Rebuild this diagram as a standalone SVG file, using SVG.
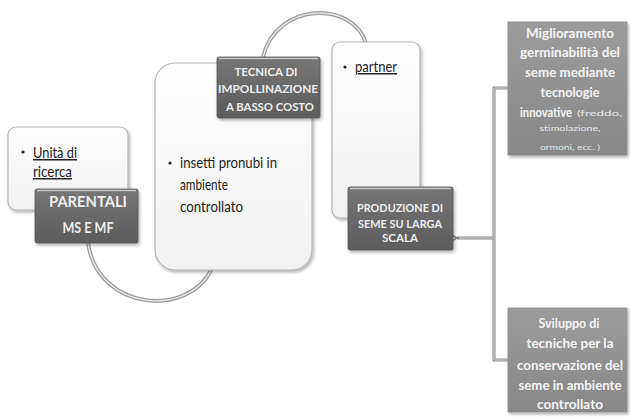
<svg xmlns="http://www.w3.org/2000/svg" width="630" height="417" viewBox="0 0 630 417">
<defs>
<style>
.lt{fill:url(#gLight);stroke:#b4b4b4;stroke-width:1.2;filter:url(#sh)}
.dk{fill:url(#gDark);stroke:#555;stroke-width:0.8;filter:url(#sh)}
.gr{fill:url(#gGray);stroke:#8a8a8a;stroke-width:0.8;filter:url(#sh)}
.hl{stroke:#c8c8c8;stroke-width:1.5}
.bt{font-family:Lato,"Liberation Sans",sans-serif;font-size:15px;fill:#222}
.dt{font-family:Lato,"Liberation Sans",sans-serif;font-weight:bold;fill:#eeeeee;text-anchor:middle}
.rt{font-family:Lato,"Liberation Sans",sans-serif;font-weight:bold;font-size:12.5px;fill:#f4f4f4}
.mid{text-anchor:middle}
.sm{font-family:Lato,"Liberation Sans",sans-serif;font-size:8px;fill:#e6e6e6;font-weight:normal}
.c1{fill:none;stroke:#9c9c9c;stroke-width:4}
.c2{fill:none;stroke:#e8e8e8;stroke-width:1.5}
.r1{fill:none;stroke:#8a8a8a;stroke-width:3}
.r2{fill:none;stroke:#d8d8d8;stroke-width:1}
</style>
<linearGradient id="gLight" x1="0" y1="0" x2="0" y2="1"><stop offset="0" stop-color="#ffffff"/><stop offset="1" stop-color="#f1f1f1"/></linearGradient>
<linearGradient id="gDark" x1="0" y1="0" x2="0" y2="1"><stop offset="0" stop-color="#767676"/><stop offset="1" stop-color="#5c5c5c"/></linearGradient>
<linearGradient id="gGray" x1="0" y1="0" x2="0" y2="1"><stop offset="0" stop-color="#9c9c9c"/><stop offset="1" stop-color="#878787"/></linearGradient>
<filter id="sh" x="-10%" y="-10%" width="130%" height="130%"><feDropShadow dx="1.5" dy="2" stdDeviation="1.5" flood-color="#000" flood-opacity="0.3"/></filter>
<marker id="ah" markerWidth="8" markerHeight="8" refX="1" refY="4" orient="auto" markerUnits="userSpaceOnUse"><path d="M7,0.5 L1,4 L7,7.5" fill="none" stroke="#8a8a8a" stroke-width="1.5"/></marker>
</defs>

<g id="connectors">
<path class="c1" d="M88,243 C98,312 190,318 212,268"/>
<path class="c2" d="M88,243 C98,312 190,318 212,268"/>
<path class="c1" d="M263,57 C276,2 352,0 366,43"/>
<path class="c2" d="M263,57 C276,2 352,0 366,43"/>
<path class="r1" d="M509,88 H494 V360 H509"/>
<path class="r2" d="M509,88 H494 V360 H509"/>
<path class="r1" d="M494,238 H457" marker-end="url(#ah)"/>
<path class="r2" d="M494,238 H459"/>
</g>

<g id="unita">
<rect class="lt" x="8" y="127" width="120" height="83" rx="8"/>
<circle cx="23" cy="152" r="1.6" fill="#222"/>
<text class="bt" x="33" y="158" textLength="44" lengthAdjust="spacingAndGlyphs" text-decoration="underline">Unità di</text>
<text class="bt" x="33" y="177" textLength="39" lengthAdjust="spacingAndGlyphs" text-decoration="underline">ricerca</text>
</g>

<g id="parentali">
<rect class="dk" x="35" y="189" width="103" height="54" rx="2"/>
<line class="hl" x1="37" y1="190.5" x2="136" y2="190.5"/>
<text class="dt" x="88" y="207" font-size="14.5" textLength="78" lengthAdjust="spacingAndGlyphs">PARENTALI</text>
<text class="dt" x="88" y="233" font-size="14.5" textLength="51" lengthAdjust="spacingAndGlyphs">MS E MF</text>
</g>

<g id="insetti">
<rect class="lt" x="155" y="63" width="157" height="207" rx="20"/>
<circle cx="170" cy="163" r="1.6" fill="#222"/>
<text class="bt" x="180" y="168" textLength="97" lengthAdjust="spacingAndGlyphs">insetti pronubi in</text>
<text class="bt" x="180" y="190" textLength="48" lengthAdjust="spacingAndGlyphs">ambiente</text>
<text class="bt" x="180" y="212" textLength="63" lengthAdjust="spacingAndGlyphs">controllato</text>
</g>

<g id="tecnica">
<rect class="dk" x="217" y="57" width="103" height="61" rx="2"/>
<line class="hl" x1="219" y1="58.5" x2="318" y2="58.5"/>
<text class="dt" x="266" y="76" font-size="11" textLength="63" lengthAdjust="spacingAndGlyphs">TECNICA DI</text>
<text class="dt" x="268" y="93" font-size="11" textLength="100" lengthAdjust="spacingAndGlyphs">IMPOLLINAZIONE</text>
<text class="dt" x="270" y="111" font-size="11" textLength="88" lengthAdjust="spacingAndGlyphs">A BASSO COSTO</text>
</g>

<g id="partner">
<rect class="lt" x="332" y="42" width="88" height="176" rx="8"/>
<circle cx="345" cy="67" r="1.6" fill="#222"/>
<text class="bt" x="355" y="72" textLength="42" lengthAdjust="spacingAndGlyphs" text-decoration="underline">partner</text>
</g>

<g id="produzione">
<rect class="dk" x="348" y="187" width="105" height="63" rx="2"/>
<line class="hl" x1="350" y1="188.5" x2="451" y2="188.5"/>
<text class="dt" x="400" y="212" font-size="11" textLength="86" lengthAdjust="spacingAndGlyphs">PRODUZIONE DI</text>
<text class="dt" x="400" y="228" font-size="11" textLength="84" lengthAdjust="spacingAndGlyphs">SEME SU LARGA</text>
<text class="dt" x="400" y="242" font-size="11" textLength="36" lengthAdjust="spacingAndGlyphs">SCALA</text>
</g>

<g id="miglioramento">
<rect class="gr" x="508" y="22" width="119" height="133"/>
<text class="rt mid" x="570" y="38" textLength="88" lengthAdjust="spacingAndGlyphs">Miglioramento</text>
<text class="rt mid" x="570" y="57" textLength="100" lengthAdjust="spacingAndGlyphs">germinabilità del</text>
<text class="rt mid" x="570" y="77" textLength="90" lengthAdjust="spacingAndGlyphs">seme mediante</text>
<text class="rt mid" x="570" y="97" textLength="59" lengthAdjust="spacingAndGlyphs">tecnologie</text>
<text class="rt" x="520" y="117" textLength="52" lengthAdjust="spacingAndGlyphs">innovative</text>
<text class="sm" x="577" y="116" textLength="45" lengthAdjust="spacingAndGlyphs">(freddo,</text>
<text class="sm mid" x="570" y="131" textLength="61" lengthAdjust="spacingAndGlyphs">stimolazione,</text>
<text class="sm mid" x="570" y="150" textLength="60" lengthAdjust="spacingAndGlyphs">ormoni, ecc. )</text>
</g>

<g id="sviluppo">
<rect class="gr" x="508" y="308" width="119" height="104"/>
<text class="rt mid" x="569" y="328" textLength="61" lengthAdjust="spacingAndGlyphs">Sviluppo di</text>
<text class="rt mid" x="570" y="348" textLength="87" lengthAdjust="spacingAndGlyphs">tecniche per la</text>
<text class="rt mid" x="570" y="370" textLength="106" lengthAdjust="spacingAndGlyphs">conservazione del</text>
<text class="rt mid" x="570" y="390" textLength="103" lengthAdjust="spacingAndGlyphs">seme in ambiente</text>
<text class="rt mid" x="570" y="409" textLength="66" lengthAdjust="spacingAndGlyphs">controllato</text>
</g>
</svg>
